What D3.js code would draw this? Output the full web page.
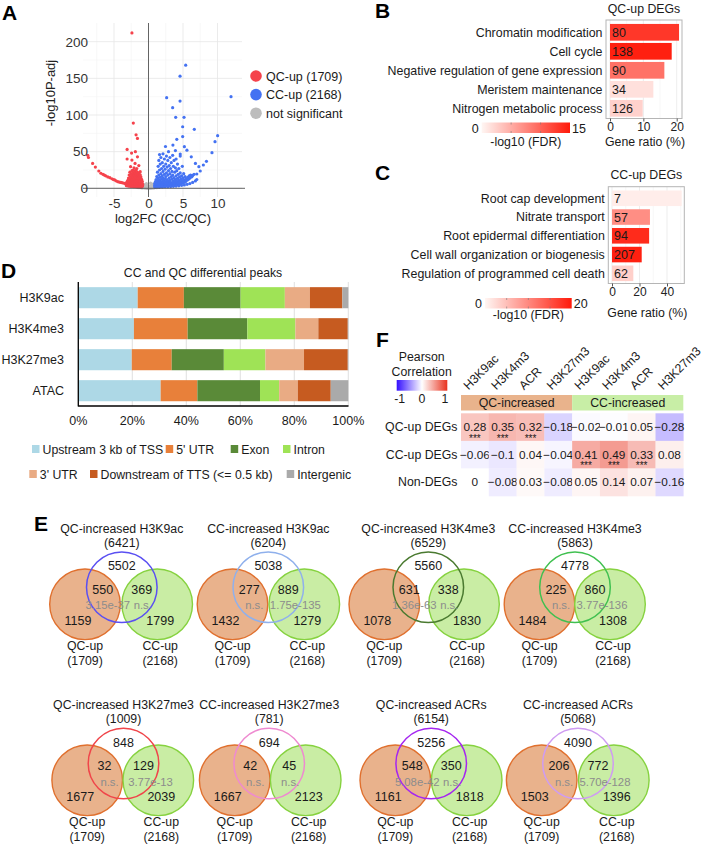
<!DOCTYPE html>
<html><head><meta charset="utf-8">
<script src="https://cdn.jsdelivr.net/npm/d3@7"></script>
<style>body{margin:0;background:#fff}svg{display:block}text{font-family:"Liberation Sans",Arial,Helvetica,sans-serif;fill:#1a1a1a}</style>
</head><body><svg id="c" width="705" height="845"></svg>
<script>
// ---------------- DATA ----------------
// Panel A: volcano points [log2FC, -log10 padj]
const volcRed = [[-2.4,212],[-2.2,89],[-1.8,73],[-1.6,68],[-3.1,53],[-1.9,50],[-2.45,48],[-1.6,43],[-3.1,40],[-2.4,38.5],[-1.95,34],[-1.4,31],[-2.6,29.5],[-1.7,27],[-2.2,25],[-1.2,22.7],
[-8.8,45],[-8.7,42],[-8.1,34],[-7.7,29],[-7.2,23.6],[-6.9,20.5],[-6.6,19],[-6.2,17],[-5.9,15.5],[-5.6,14.5],[-5.3,13],[-4.9,11.4],[-4.7,10.2],[-4.45,9],[-4.2,8.4],[-3.85,7.7],[-3.6,7],[-3.35,6.4],[-4.0,8],[-5.1,12],[-6.4,18],
[-3.3,5.8],[-3.2,7.5],[-3.1,9],[-3.0,5.2],[-3.0,11],[-2.9,6.5],[-2.9,14],[-2.8,4.8],[-2.8,8.5],[-2.8,18],[-2.7,6],[-2.7,10.5],[-2.7,22],[-2.6,4.5],[-2.6,7.8],[-2.6,12.5],[-2.6,16],[-2.5,5.5],[-2.5,9.2],[-2.5,14.5],[-2.5,20],[-2.4,4.2],[-2.4,6.8],[-2.4,11],[-2.4,17],[-2.4,24],[-2.3,5],[-2.3,8],[-2.3,13],[-2.3,19],[-2.2,3.8],[-2.2,6.2],[-2.2,9.8],[-2.2,15],[-2.2,21],[-2.1,4.6],[-2.1,7.2],[-2.1,11.8],[-2.1,17.5],[-2.1,28],[-2.0,3.5],[-2.0,5.8],[-2.0,8.8],[-2.0,13.5],[-2.0,19.5],[-2.0,23],[-1.9,4.2],[-1.9,6.6],[-1.9,10.2],[-1.9,15.8],[-1.9,21.5],[-1.8,3.2],[-1.8,5.2],[-1.8,7.8],[-1.8,12],[-1.8,17.2],[-1.8,25],[-1.7,4],[-1.7,6.2],[-1.7,9.5],[-1.7,14],[-1.7,19.8],[-1.6,3],[-1.6,5],[-1.6,7.2],[-1.6,11],[-1.6,16],[-1.6,22],[-1.5,3.6],[-1.5,5.8],[-1.5,8.6],[-1.5,12.8],[-1.5,18.5],[-1.4,2.8],[-1.4,4.6],[-1.4,6.8],[-1.4,10],[-1.4,14.6],[-1.4,20.5],[-1.3,3.4],[-1.3,5.4],[-1.3,8],[-1.3,11.8],[-1.3,16.8],[-1.2,2.6],[-1.2,4.2],[-1.2,6.2],[-1.2,9.2],[-1.2,13.5],[-1.2,18.5],[-1.1,3.2],[-1.1,5],[-1.1,7.4],[-1.1,10.8],[-1.1,15.5],[-1.0,2.4],[-1.0,3.9],[-1.0,5.8],[-1.0,8.5],[-1.0,12.2],[-0.95,2.8],[-0.9,4.4],[-0.9,6.6],[-0.9,9.6],[-0.85,3.4],[-0.85,5.2],[-3.2,3.5],[-3.0,3.2],[-2.8,2.9],[-2.6,2.7],[-2.4,2.5],[-2.2,2.3],[-2.0,2.1],[-1.8,2],[-1.6,1.9],[-1.4,1.8],[-1.2,1.7],[-1.0,1.6]];
const volcBlue = [[5.39,168],[4.57,153],[11.96,125],[2.63,123.6],[4.57,119],[3.5,110],[3.94,96.8],[5.15,96.8],[6.64,80.5],[4.95,84],[10.02,71.8],[9.64,63.6],[4.95,70.5],[9.2,48.6],[7.95,31.8],[8.4,36.8],[4.1,66.8],[5.2,56.8],[3.54,59],[5.57,52],[2.46,57],[2.9,50],[3.9,51.4],[4.6,46.8],[6.2,43],[6.8,34],[7.3,29.5],[7.5,23.6],[7.0,19.5],[6.3,16],[5.57,12.3],[4.85,9],
[0.9,2],[0.9,4],[0.9,6.5],[1.0,2.5],[1.0,9],[1.1,3.2],[1.1,5.4],[1.1,12],[1.2,2.2],[1.2,7],[1.2,16],[1.3,3.8],[1.3,10],[1.3,22],[1.4,2.6],[1.4,5.8],[1.4,13.5],[1.4,30],[1.5,4.4],[1.5,8.2],[1.5,18],[1.5,38],[1.6,2.4],[1.6,6.4],[1.6,11],[1.6,25],[1.6,46],[1.7,3.6],[1.7,9.4],[1.7,15],[1.7,33],[1.8,2.8],[1.8,5.2],[1.8,7.8],[1.8,20],[1.8,42],[1.9,4],[1.9,12.4],[1.9,27],[2.0,2.6],[2.0,6],[2.0,9],[2.0,17],[2.0,35],[2.1,3.4],[2.1,14],[2.1,23],[2.1,47],[2.2,4.8],[2.2,7.2],[2.2,10.8],[2.2,30],[2.3,3],[2.3,19],[2.3,40],[2.4,5.6],[2.4,8.4],[2.4,13],[2.4,26],[2.5,3.6],[2.5,16],[2.5,33],[2.6,6.6],[2.6,10],[2.6,21],[2.6,44],[2.7,4.2],[2.7,12],[2.7,29],[2.8,3.2],[2.8,7.6],[2.8,18],[2.8,38],[2.9,5.2],[2.9,9.4],[2.9,24],[3.0,3.8],[3.0,14],[3.0,31],[3.1,6.2],[3.1,11],[3.1,20],[3.1,42],[3.2,4.4],[3.2,8.4],[3.2,27],[3.3,3.4],[3.3,16],[3.3,35],[3.4,5.6],[3.4,12.6],[3.4,23],[3.5,7.2],[3.5,18],[3.5,45],[3.6,4.2],[3.6,10],[3.6,30],[3.7,6],[3.7,14.5],[3.7,38],[3.8,3.8],[3.8,8.4],[3.8,22],[3.9,5.4],[3.9,11.8],[3.9,28],[4.0,7],[4.0,17],[4.0,40],[4.1,4.8],[4.1,9.6],[4.1,24],[4.2,6.2],[4.2,13.5],[4.2,33],[4.3,8],[4.3,19],[4.4,5.6],[4.4,11],[4.4,27],[4.5,7],[4.5,15.5],[4.6,9.2],[4.6,21],[4.6,44],[4.7,6.4],[4.7,12.8],[4.8,8.2],[4.8,17],[4.9,10.5],[4.9,30],[5.0,7.4],[5.0,14],[5.1,9],[5.1,20],[5.2,11.6],[5.3,8.4],[5.3,16],[5.4,10],[5.5,13],[5.6,11],[5.7,15],[5.8,12.4],[5.9,17],[6.0,14],[6.1,18],[6.2,15.5],[6.4,17.5],[6.6,19],[1.0,1.6],[1.3,1.8],[1.6,1.7],[2.0,1.9],[2.4,2.1],[2.8,2.2],[3.2,2.4],[3.6,2.7],[4.0,3],[4.4,3.4],[4.8,4],[5.2,4.6],[5.6,5.4],[6.0,6.5],[6.4,8],[6.8,10],[7.0,12]];
const volcGray = [[-1.0,1.0],[-0.9,0.5],[-0.8,1.5],[-0.7,0.8],[-0.6,2.2],[-0.5,0.3],[-0.5,1.2],[-0.4,3],[-0.3,0.6],[-0.3,1.8],[-0.2,0.2],[-0.2,4],[-0.1,0.9],[0,0.1],[0.1,0.7],[0.1,2.5],[0.2,0.3],[0.2,1.4],[0.3,3.5],[0.3,0.8],[0.4,0.2],[0.4,2],[0.5,1.1],[0.5,5],[0.6,0.5],[0.6,2.8],[0.7,1.6],[0.7,6],[0.8,0.4],[0.8,3.8],[0.9,1.2],[-0.6,5],[-0.8,3.5],[-1.2,0.8],[-1.5,1],[1.2,0.9],[1.5,1.1],[-0.3,6.5],[0.3,7]];
const volcLegend = ["QC-up (1709)","CC-up (2168)","not significant"];
const volcXTicks = [-5,0,5,10];
const volcYTicks = [0,50,100,150,200];

// Panel B
const goQCTerms = ["Chromatin modification","Cell cycle","Negative regulation of gene expression","Meristem maintenance","Nitrogen metabolic process"];
const goQCRatio = [20.7,18.5,16.3,13,9.8];
const goQCFdr = [13,14.6,9,1.5,2.5];
const goQCCount = [80,138,90,34,126];
const goQCTicks = [0,10,20];
// Panel C
const goCCTerms = ["Root cap development","Nitrate transport","Root epidermal differentiation","Cell wall organization or biogenesis","Regulation of programmed cell death"];
const goCCRatio = [50.7,27.6,27,21.6,15.5];
const goCCFdr = [0.8,9.5,18.5,19.5,3.5];
const goCCCount = [7,57,94,207,62];
const goCCTicks = [0,20,40];

// Panel D
const peakMarks = ["H3K9ac","H3K4me3","H3K27me3","ATAC"];
const featureNames = ["Upstream 3 kb of TSS","5' UTR","Exon","Intron","3' UTR","Downstream of TTS (<= 0.5 kb)","Intergenic"];
const shareH3K9ac = [22.0,17.1,21.0,16.4,9.3,12.0,2.2];
const shareH3K4me3 = [20.6,19.9,22.1,17.8,8.5,10.9,0.2];
const shareH3K27me3 = [19.8,14.8,19.3,15.4,14.3,16.2,0.2];
const shareATAC = [30.5,13.6,23.2,7.1,6.9,12.2,6.5];
const pctTicks = [0,20,40,60,80,100];

// Panel F
const corrCols = ["H3K9ac","H3K4m3","ACR","H3K27m3","H3K9ac","H3K4m3","ACR","H3K27m3"];
const corrGroups = ["QC-increased","CC-increased"];
const corrRows = ["QC-up DEGs","CC-up DEGs","Non-DEGs"];
const corrQCup = [0.28,0.35,0.32,-0.18,-0.02,-0.01,0.05,-0.28];
const corrCCup = [-0.06,-0.1,0.04,-0.04,0.41,0.49,0.33,0.08];
const corrNon = [0,-0.08,0.03,-0.08,0.05,0.14,0.07,-0.16];
const sigQCup = [1,1,1,0,0,0,0,0];
const sigCCup = [0,0,0,0,1,1,1,0];
const sigNon = [0,0,0,0,0,0,0,0];

// Panel E
const vennTitles = ["QC-increased H3K9ac","CC-increased H3K9ac","QC-increased H3K4me3","CC-increased H3K4me3","QC-increased H3K27me3","CC-increased H3K27me3","QC-increased ACRs","CC-increased ACRs"];
const vennTotals = [6421,6204,6529,5863,1009,781,6154,5068];
const vennMarkOnly = [5502,5038,5560,4778,848,694,5256,4090];
const vennQCint = [550,277,631,225,32,42,548,206];
const vennCCint = [369,889,338,860,129,45,350,772];
const vennPQC = ["3.15e-37","n.s.","1.36e-63","n.s.","n.s.","n.s.","5.08e-42","n.s."];
const vennPCC = ["n.s.","1.75e-135","n.s.","3.77e-136","3.77e-13","n.s.","n.s.","5.70e-128"];
const vennQConly = [1159,1432,1078,1484,1677,1667,1161,1503];
const vennCConly = [1799,1279,1830,1308,2039,2123,1818,1396];
const qcUpTotal = 1709, ccUpTotal = 2168;

// ---------------- DRAW ----------------
const svg = d3.select("#c");
function txt(g, x, y, s, o = {}) {
  const t = g.append("text").attr("x", x).attr("y", y).text(s)
    .attr("font-size", o.size || 12).attr("text-anchor", o.anchor || "start");
  if (o.fill) t.style("fill", o.fill);
  if (o.weight) t.attr("font-weight", o.weight);
  if (o.rotate !== undefined) t.attr("transform", `rotate(${o.rotate},${x},${y})`);
  return t;
}
const letter = (x, y, s) => txt(svg, x, y, s, {size: 21, weight: "bold"}).style("fill", "#000");

// ===== Panel A =====
letter(2, 20, "A");
const ax = d3.scaleLinear().domain([0, 10]).range([148.5, 217.5]);
const ay = d3.scaleLinear().domain([0, 200]).range([188.3, 41.7]);
const gA = svg.append("g");
const pL = 83, pR = 242, pT = 23, pB = 197;
const minorX = [-7.5,-2.5,2.5,7.5], minorY = [25,75,125,175];
minorX.forEach(v => gA.append("line").attr("x1", ax(v)).attr("x2", ax(v)).attr("y1", pT).attr("y2", pB).attr("stroke", "#f3f3f3").attr("stroke-width", 0.6));
minorY.forEach(v => gA.append("line").attr("x1", pL).attr("x2", pR).attr("y1", ay(v)).attr("y2", ay(v)).attr("stroke", "#f3f3f3").attr("stroke-width", 0.6));
volcXTicks.forEach(v => gA.append("line").attr("x1", ax(v)).attr("x2", ax(v)).attr("y1", pT).attr("y2", pB).attr("stroke", "#e6e6e6").attr("stroke-width", 0.8));
volcYTicks.forEach(v => gA.append("line").attr("x1", pL).attr("x2", pR).attr("y1", ay(v)).attr("y2", ay(v)).attr("stroke", "#e6e6e6").attr("stroke-width", 0.8));
const dot = (arr, col) => gA.append("g").selectAll("circle").data(arr).join("circle")
  .attr("cx", d => ax(d[0])).attr("cy", d => ay(d[1])).attr("r", 1.6).attr("fill", col);
dot(volcGray, "#bdbdbd"); dot(volcRed, "#f5424b"); dot(volcBlue, "#4472f2");
gA.append("line").attr("x1", ax(0)).attr("x2", ax(0)).attr("y1", pT).attr("y2", pB).attr("stroke", "#555").attr("stroke-width", 0.9);
gA.append("line").attr("x1", pL).attr("x2", 245).attr("y1", ay(0)).attr("y2", ay(0)).attr("stroke", "#555").attr("stroke-width", 0.9);
const axB = gA.append("g").attr("transform", `translate(0,${pB})`).call(d3.axisBottom(ax).tickValues(volcXTicks).tickSize(0).tickPadding(1.5).tickFormat(d => d < 0 ? "-" + Math.abs(d) : d));
const axL = gA.append("g").attr("transform", `translate(${pL},0)`).call(d3.axisLeft(ay).tickValues(volcYTicks).tickSize(0).tickPadding(-5));
[axB, axL].forEach(a => { a.select(".domain").remove(); a.selectAll("text").attr("font-size", 13.5).attr("font-family", null).style("fill", "#333"); });
txt(gA, 163, 222.5, "log2FC (CC/QC)", {size: 13, anchor: "middle", fill: "#222"});
txt(gA, 55, 93, "-log10P-adj", {size: 13, anchor: "middle", rotate: -90, fill: "#222"});
const legCols = ["#f5424b", "#4472f2", "#bdbdbd"];
volcLegend.forEach((s, i) => {
  gA.append("circle").attr("cx", 256).attr("cy", 76 + i * 18.6).attr("r", 5.8).attr("fill", legCols[i]);
  txt(gA, 266, 80.5 + i * 18.6, s, {size: 12.5});
});

// ===== Panels B & C (GO bars) =====
function goPanel(o) {
  const g = svg.append("g");
  const x = d3.scaleLinear().domain([0, o.xmax]).range([o.x0, o.x1]);
  const y = d3.scaleBand().domain(o.terms).range([o.yb0, o.yb1]).paddingInner(o.pad).paddingOuter(o.pad / 2);
  const col = d3.scaleLinear().domain([0, o.fmax]).range(["#fff6f3", "#ff1a0a"]).interpolate(d3.interpolateRgb);
  g.append("rect").attr("x", o.bx0).attr("y", o.by0).attr("width", o.bx1 - o.bx0).attr("height", o.by1 - o.by0).attr("fill", "#fff");
  o.minor.forEach(v => g.append("line").attr("x1", x(v)).attr("x2", x(v)).attr("y1", o.by0).attr("y2", o.by1).attr("stroke", "#f2f2f2").attr("stroke-width", 0.6));
  o.ticks.forEach(v => g.append("line").attr("x1", x(v)).attr("x2", x(v)).attr("y1", o.by0).attr("y2", o.by1).attr("stroke", "#e8e8e8").attr("stroke-width", 0.8));
  g.selectAll(".bar").data(o.terms).join("rect").attr("x", x(0)).attr("y", d => y(d))
    .attr("width", (d, i) => x(o.ratio[i]) - x(0)).attr("height", y.bandwidth()).attr("fill", (d, i) => col(o.fdr[i]));
  g.append("rect").attr("x", o.bx0).attr("y", o.by0).attr("width", o.bx1 - o.bx0).attr("height", o.by1 - o.by0).attr("fill", "none").attr("stroke", "#b5b5b5").attr("stroke-width", 1);
  o.terms.forEach((t, i) => {
    txt(g, o.bx0 - 3.5, y(t) + y.bandwidth() / 2 + 4.3, t, {size: 12.4, anchor: "end"});
    txt(g, x(0) + 2, y(t) + y.bandwidth() / 2 + 4.6, o.count[i], {size: 12.5});
  });
  const axx = g.append("g").attr("transform", `translate(0,${o.by1})`).call(d3.axisBottom(x).tickValues(o.ticks).tickSize(3).tickPadding(1));
  axx.select(".domain").remove();
  axx.selectAll("line").attr("stroke", "#555");
  axx.selectAll("text").attr("font-size", 12).attr("font-family", null).style("fill", "#222");
  txt(g, (o.bx0 + o.bx1) / 2, o.titleY, o.title, {size: 12.3, anchor: "middle"});
  txt(g, (o.bx0 + o.bx1) / 2 + 1, o.gr.lab2, "Gene ratio (%)", {size: 12.3, anchor: "middle"});
  const id = "grad" + o.fmax;
  const lg = svg.append("defs").append("linearGradient").attr("id", id);
  lg.append("stop").attr("offset", "0%").attr("stop-color", col(0));
  lg.append("stop").attr("offset", "100%").attr("stop-color", col(o.fmax));
  const gx = d3.scaleLinear().domain([0, o.fmax]).range([o.gr.x0, o.gr.x1]);
  g.append("rect").attr("x", o.gr.x0).attr("y", o.gr.y0).attr("width", o.gr.x1 - o.gr.x0).attr("height", o.gr.h).attr("fill", `url(#${id})`);
  o.gTicks.forEach(v => {
    g.append("line").attr("x1", gx(v)).attr("x2", gx(v)).attr("y1", o.gr.y0).attr("y2", o.gr.y0 + 2).attr("stroke", "#777").attr("stroke-width", 0.6);
    g.append("line").attr("x1", gx(v)).attr("x2", gx(v)).attr("y1", o.gr.y0 + o.gr.h - 2).attr("y2", o.gr.y0 + o.gr.h).attr("stroke", "#777").attr("stroke-width", 0.6);
  });
  txt(g, o.gr.x0 - 3, o.gr.y0 + o.gr.h - 0.5, "0", {size: 12.5, anchor: "end"});
  txt(g, o.gr.x1 + 2, o.gr.y0 + o.gr.h - 0.5, String(o.fmax), {size: 12.5});
  txt(g, (o.gr.x0 + o.gr.x1) / 2, o.gr.lab, "-log10 (FDR)", {size: 12.3, anchor: "middle"});
}
letter(375, 18.3, "B");
goPanel({terms: goQCTerms, ratio: goQCRatio, fdr: goQCFdr, count: goQCCount, ticks: goQCTicks, minor: [5, 15], xmax: 20, x0: 610, x1: 676.7,
  yb0: 22.8, yb1: 117.8, pad: 0.12, bx0: 606, bx1: 682, by0: 20, by1: 118.5, fmax: 15, gTicks: [5, 10], title: "QC-up DEGs", titleY: 12.5,
  gr: {x0: 481.7, x1: 570, y0: 122.5, h: 10.5, lab: 146, lab2: 146}});
letter(375, 180, "C");
goPanel({terms: goCCTerms, ratio: goCCRatio, fdr: goCCFdr, count: goCCCount, ticks: goCCTicks, minor: [10, 30, 50], xmax: 40, x0: 612, x1: 667,
  yb0: 188.9, yb1: 282.7, pad: 0.17, bx0: 608.3, bx1: 684.3, by0: 186.7, by1: 283.5, fmax: 20, gTicks: [5, 10, 15], title: "CC-up DEGs", titleY: 178.5,
  gr: {x0: 485, x1: 571.7, y0: 298, h: 10.5, lab: 318.5, lab2: 317}});

// ===== Panel D =====
letter(1, 277.5, "D");
const gD = svg.append("g");
const featColors = ["#add8e6", "#e8803a", "#5a8a38", "#9fe356", "#e9ab84", "#c65b20", "#aaaaaa"];
const shares = [shareH3K9ac, shareH3K4me3, shareH3K27me3, shareATAC];
const dx = d3.scaleLinear().domain([0, 100]).range([78.3, 348.3]);
const dy = d3.scaleBand().domain(peakMarks).range([282.2, 406.2]).paddingInner(0.32).paddingOuter(0.16);
pctTicks.forEach(v => gD.append("line").attr("x1", dx(v)).attr("x2", dx(v)).attr("y1", 282).attr("y2", 406).attr("stroke", "#d8d8d8").attr("stroke-width", 0.8));
const table = peakMarks.map((m, i) => { const o = {mark: m}; featureNames.forEach((f, j) => o[f] = shares[i][j]); return o; });
const stack = d3.stack().keys(featureNames)(table);
stack.forEach((layer, k) => {
  gD.append("g").selectAll("rect").data(layer).join("rect")
    .attr("x", d => dx(d[0])).attr("width", d => dx(d[1]) - dx(d[0]))
    .attr("y", d => dy(d.data.mark)).attr("height", dy.bandwidth()).attr("fill", featColors[k]);
});
gD.append("line").attr("x1", 78.3).attr("x2", 78.3).attr("y1", 282).attr("y2", 406.5).attr("stroke", "#000").attr("stroke-width", 1.3);
gD.append("line").attr("x1", 78.3).attr("x2", 348.5).attr("y1", 406).attr("y2", 406).attr("stroke", "#000").attr("stroke-width", 1.3);
peakMarks.forEach(m => txt(gD, 64, dy(m) + dy.bandwidth() / 2 + 4.3, m, {size: 12.5, anchor: "end"}));
pctTicks.forEach(v => txt(gD, dx(v), 425, v + "%", {size: 12.5, anchor: "middle"}));
txt(gD, 203, 277, "CC and QC differential peaks", {size: 12.2, anchor: "middle"});
const legPos = [[32, 454], [165.7, 454], [230.7, 454], [283, 454], [29.3, 479], [90, 479], [286.7, 479]];
featureNames.forEach((f, i) => {
  gD.append("rect").attr("x", legPos[i][0]).attr("y", legPos[i][1] - 9).attr("width", 7.5).attr("height", 8).attr("fill", featColors[i]);
  txt(gD, legPos[i][0] + 10.5, legPos[i][1], f, {size: 12.3});
});

// ===== Panel F =====
letter(376, 346.7, "F");
const gF = svg.append("g");
const corrMat = [corrQCup, corrCCup, corrNon], sigMat = [sigQCup, sigCCup, sigNon];
const fx = d3.scaleBand().domain(d3.range(corrCols.length)).range([461, 683.3]);
const fy = d3.scaleBand().domain(corrRows).range([413.3, 496]);
const fcol = d3.scaleLinear().domain([-1, 0, 1]).range(["#3410ff", "#ffffff", "#e8321e"]);
corrRows.forEach((r, i) => {
  corrMat[i].forEach((v, j) => {
    gF.append("rect").attr("x", fx(j)).attr("y", fy(r)).attr("width", fx.bandwidth() + 0.3).attr("height", fy.bandwidth() + 0.3).attr("fill", fcol(v));
    const cx = fx(j) + fx.bandwidth() / 2, cy = fy(r) + fy.bandwidth() / 2;
    txt(gF, cx, cy + 4, String(v).replace("-", "\u2212"), {size: 11.8, anchor: "middle"});
    if (sigMat[i][j]) txt(gF, cx, cy + 14.5, "***", {size: 10, anchor: "middle"});
  });
  txt(gF, 457.5, fy(r) + fy.bandwidth() / 2 + 4, r, {size: 12.3, anchor: "end"});
});
const grpCols = ["#e9b38c", "#c8eea6"];
corrGroups.forEach((gname, k) => {
  const x0 = fx(k * 4), x1 = fx(k * 4 + 3) + fx.bandwidth();
  gF.append("rect").attr("x", x0).attr("y", 395).attr("width", x1 - x0).attr("height", 15.5).attr("fill", grpCols[k]);
  txt(gF, (x0 + x1) / 2, 407, gname, {size: 12.3, anchor: "middle"});
});
corrCols.forEach((c, j) => {
  const x = fx(j) + fx.bandwidth() / 2 - 6.5;
  txt(gF, x, 390.5, c, {size: 12.3, rotate: -45});
});
const lgF = svg.append("defs").append("linearGradient").attr("id", "gradF");
[-1, -0.5, 0, 0.5, 1].forEach(v => lgF.append("stop").attr("offset", ((v + 1) / 2 * 100) + "%").attr("stop-color", fcol(v)));
gF.append("rect").attr("x", 396.7).attr("y", 380).attr("width", 50.6).attr("height", 10.7).attr("fill", "url(#gradF)");
txt(gF, 421.7, 361, "Pearson", {size: 12.3, anchor: "middle"});
txt(gF, 421.7, 376.3, "Correlation", {size: 12.3, anchor: "middle"});
const lfx = d3.scaleLinear().domain([-1, 1]).range([396.7, 447.3]);
[-1, 0, 1].forEach(v => txt(gF, lfx(v) + (v === -1 ? 3 : v === 1 ? -2.5 : 0), 403.3, String(v), {size: 12.3, anchor: "middle"}));

// ===== Panel E (Venn diagrams) =====
letter(34, 530.7, "E");
const gE = svg.append("g");
const vennLayout = [[85,121.8,157.2],[232.5,268.3,304.3],[384.3,428.3,464],[539.5,575,610],[87.2,123.5,158.3],[234.7,269.2,305.7],[395.3,431.2,466.7],[541.7,578,613.8]];
const vennRing = ["#5a4ff2","#8fb0ec","#4a7a30","#40c050","#f0454a","#ee8ad0","#a526f0","#cf9cf2"];
const rowCy = [604.3, 780.3], rowTy = [587.2, 763.5], rowTitle = [532.5, 709];
const r = 35.3, pGray = "#8c8c8c";
vennTitles.forEach((t, i) => {
  const row = i < 4 ? 0 : 1, [L, T, R] = vennLayout[i], cy = rowCy[row], ty = rowTy[row];
  gE.append("circle").attr("cx", L).attr("cy", cy).attr("r", r).attr("fill", "#e9b28c").attr("stroke", "#e0702e").attr("stroke-width", 1.4);
  gE.append("circle").attr("cx", R).attr("cy", cy).attr("r", r).attr("fill", "#c9eda4").attr("stroke", "#86d23f").attr("stroke-width", 1.4);
  gE.append("circle").attr("cx", T).attr("cy", ty).attr("r", r).attr("fill", "none").attr("stroke", vennRing[i]).attr("stroke-width", 1.5);
  txt(gE, T, rowTitle[row], t, {size: 12.3, anchor: "middle"});
  txt(gE, T, rowTitle[row] + 14, "(" + vennTotals[i] + ")", {size: 12.3, anchor: "middle"});
  txt(gE, T, ty - 17, vennMarkOnly[i], {size: 12.5, anchor: "middle"});
  txt(gE, T - 19, ty + 6.5, vennQCint[i], {size: 12.5, anchor: "middle"});
  txt(gE, T + 20, ty + 6.5, vennCCint[i], {size: 12.5, anchor: "middle"});
  txt(gE, T - 14, ty + 22, vennPQC[i], {size: 11.3, anchor: "middle", fill: pGray});
  txt(gE, T + (vennPCC[i] === "n.s." ? 21 : 27), ty + 22, vennPCC[i], {size: 11.3, anchor: "middle", fill: pGray});
  txt(gE, L - 7, cy + 21, vennQConly[i], {size: 12.5, anchor: "middle"});
  txt(gE, R + 3, cy + 21, vennCConly[i], {size: 12.5, anchor: "middle"});
  txt(gE, L, cy + 46, "QC-up", {size: 12.3, anchor: "middle"});
  txt(gE, L, cy + 61, "(" + qcUpTotal + ")", {size: 12.3, anchor: "middle"});
  txt(gE, R + 3, cy + 46, "CC-up", {size: 12.3, anchor: "middle"});
  txt(gE, R + 3, cy + 61, "(" + ccUpTotal + ")", {size: 12.3, anchor: "middle"});
});
</script></body></html>
